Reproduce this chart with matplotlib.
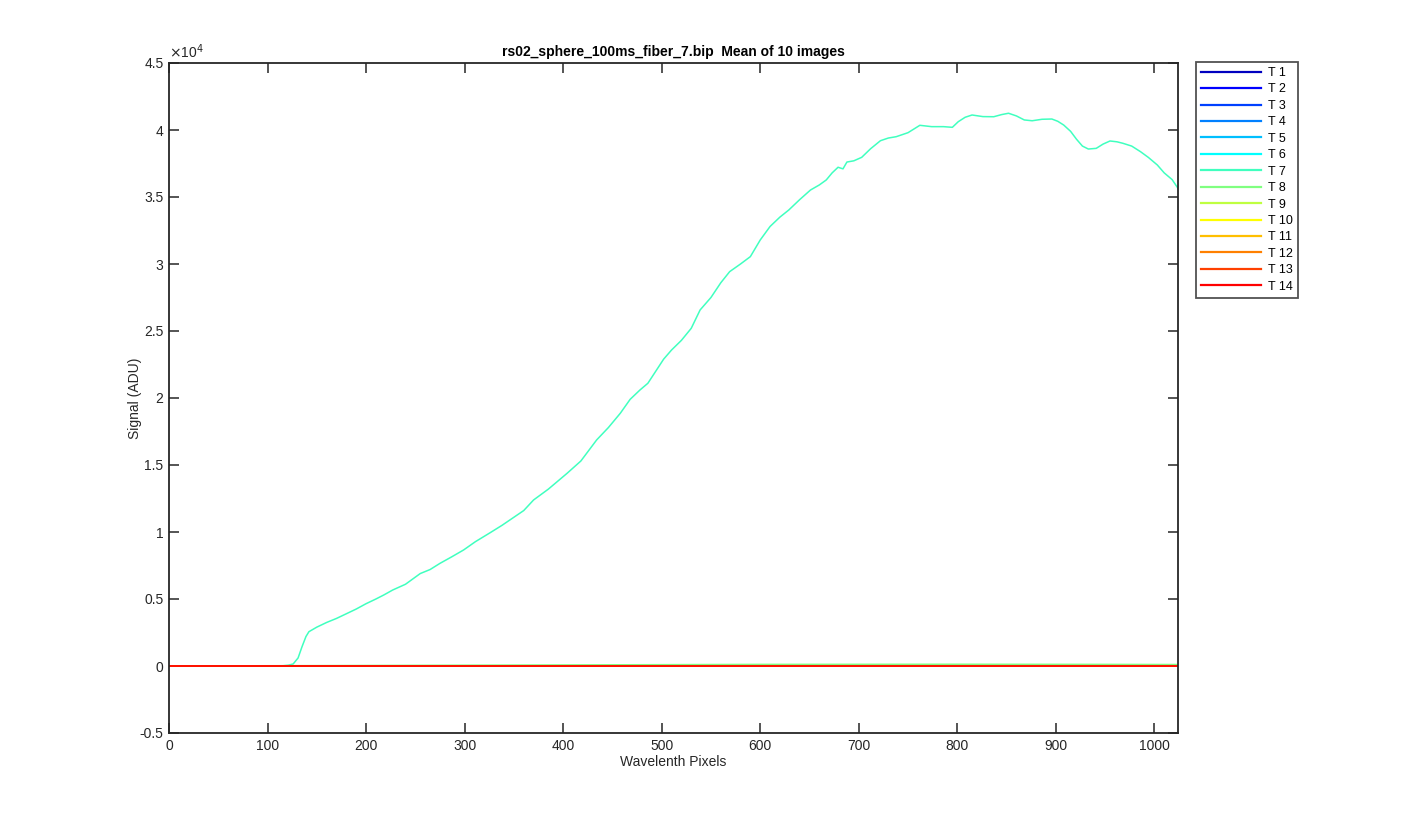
import matplotlib
matplotlib.use("Agg")
import matplotlib.pyplot as plt
from matplotlib.ticker import FuncFormatter, MultipleLocator

# ---- data -------------------------------------------------------------
labels = ["T %d" % i for i in range(1, 15)]

# MATLAB jet(14) colours
colors = [
    (0.00, 0.00, 0.75), (0.00, 0.00, 1.00), (0.00, 0.25, 1.00), (0.00, 0.50, 1.00),
    (0.00, 0.75, 1.00), (0.00, 1.00, 1.00), (0.25, 1.00, 0.75), (0.50, 1.00, 0.50),
    (0.75, 1.00, 0.25), (1.00, 1.00, 0.00), (1.00, 0.75, 0.00), (1.00, 0.50, 0.00),
    (1.00, 0.25, 0.00), (1.00, 0.00, 0.00),
]

# flat traces (all near zero)
flat_x = [1, 1024]
flat_y = [0, 0]

t7_x = [1, 60, 110, 116, 121, 126, 131, 135, 139, 142, 150, 160, 170, 180, 190,
        200, 210, 218, 227, 240, 255, 265, 275, 287, 299, 311, 326, 338, 350,
        360, 370, 385, 404, 418, 434, 446, 458, 468, 478, 486, 494, 502, 510,
        520, 530, 539, 550, 560, 569, 580, 590, 600, 610, 620, 629, 640, 651,
        660, 667, 673, 679, 684, 688, 695, 703, 712, 722, 730, 738, 750, 762,
        774, 786, 795, 801, 808, 815, 826, 837, 845, 852, 860, 868, 876, 886,
        896, 902, 908, 915, 921, 927, 933, 941, 948, 955, 962, 968, 977, 986,
        994, 1003, 1010, 1018, 1024]
t7_y = [0, 0, 0, 20, 60, 150, 600, 1440, 2200, 2560, 2900, 3250, 3550, 3900, 4250,
        4650, 5000, 5300, 5670, 6100, 6900, 7200, 7660, 8150, 8660, 9280, 9950, 10500, 11100,
        11600, 12390, 13200, 14380, 15300, 16870, 17800, 18860, 19900, 20600, 21100, 22000, 22900, 23580,
        24300, 25200, 26570, 27500, 28600, 29430, 30000, 30550, 31790, 32800, 33500, 34030, 34800, 35520,
        35900, 36270, 36800, 37220, 37100, 37610, 37700, 37960, 38600, 39200, 39400, 39500, 39800, 40350,
        40250, 40250, 40200, 40620, 40950, 41120, 41000, 40990, 41150, 41250, 41050, 40750, 40690, 40800,
        40820, 40650, 40370, 39900, 39310, 38800, 38580, 38630, 38950, 39180, 39120, 39010, 38800, 38380,
        37950, 37390, 36800, 36300, 35650]

# T8 sits slightly above zero
t8_x = [1, 200, 400, 600, 800, 950, 1024]
t8_y = [0, 40, 80, 120, 130, 120, 110]

# ---- figure -----------------------------------------------------------
plt.rcParams['font.family'] = ['Liberation Sans', 'DejaVu Sans']
fig = plt.figure(figsize=(14.25, 8.25), dpi=100, facecolor="white")
ax = fig.add_axes([169 / 1425, 1 - 733 / 825, (1178 - 169) / 1425, (733 - 63) / 825])

lines = []
for i in range(14):
    if i == 6:
        xs, ys = t7_x, t7_y
    elif i == 7:
        xs, ys = t8_x, t8_y
    else:
        xs, ys = flat_x, flat_y
    ln, = ax.plot(xs, ys, color=colors[i], lw=1.1, label=labels[i])
    lines.append(ln)

ax.set_xlim(0, 1024)
ax.set_ylim(-5000, 45000)
ax.xaxis.set_major_locator(MultipleLocator(100))
ax.yaxis.set_major_locator(MultipleLocator(5000))
ax.yaxis.set_major_formatter(FuncFormatter(lambda v, p: "%g" % (v / 1e4)))

axc = "#262626"
for s in ax.spines.values():
    s.set_color(axc)
    s.set_linewidth(1.3)
ax.tick_params(direction="in", length=7, width=1.1, color=axc, labelcolor=axc,
               labelsize=10, top=True, right=True, pad=4)

ax.text(0.0, 1.003, r"$\times$10$^{4}$", transform=ax.transAxes, ha="left", va="bottom",
        fontsize=10, color=axc)

ax.set_xlabel("Wavelenth Pixels", fontsize=10, color=axc, labelpad=2)
ax.set_ylabel("Signal (ADU)", fontsize=10, color=axc, labelpad=-2)
ax.set_title("rs02_sphere_100ms_fiber_7.bip  Mean of 10 images", fontsize=10,
             fontweight="bold", color="black", pad=5)

leg = ax.legend(handles=lines, loc="upper left", bbox_to_anchor=(1196 / 1425, 1 - 62 / 825),
                bbox_transform=fig.transFigure, fontsize=9, frameon=True, fancybox=False,
                handlelength=4.8, handletextpad=0.6, labelspacing=0.355, borderpad=0.4,
                borderaxespad=0)
leg.get_frame().set_edgecolor(axc)
leg.get_frame().set_linewidth(1.3)
for h in leg.legend_handles:
    h.set_linewidth(1.6)

fig.savefig("out.png", dpi=100, facecolor="white")
